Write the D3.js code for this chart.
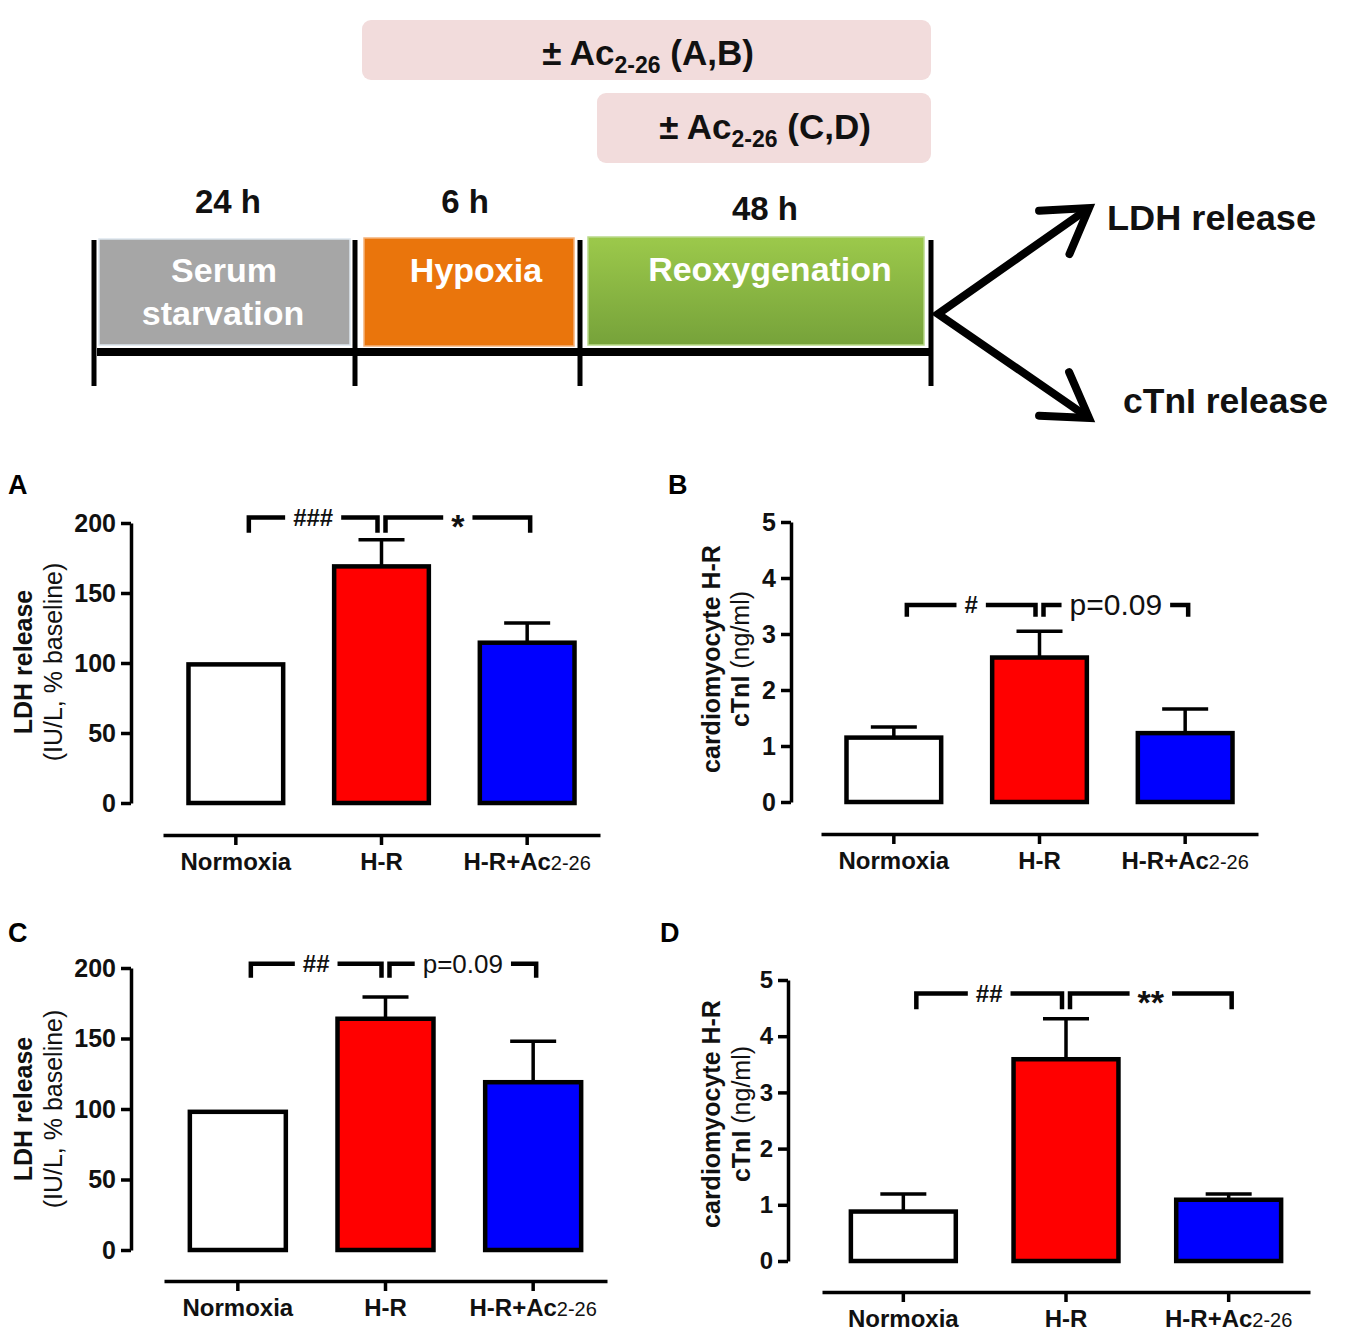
<!DOCTYPE html>
<html><head><meta charset="utf-8">
<script src="https://cdn.jsdelivr.net/npm/d3@7"></script>
<style>
body{margin:0;background:#fff}
svg{display:block}
text{font-family:"Liberation Sans",Arial,Helvetica,sans-serif}
</style>
</head><body>
<svg id="fig" width="1350" height="1334"></svg>
<script>
// ---------------- DATA ----------------
const groups = ["Normoxia", "H-R", "H-R+Ac2-26"];
const barColors = ["#ffffff", "#ff0000", "#0000ff"];
const ldhTicks = [0, 50, 100, 150, 200];
const ctniTicks = [0, 1, 2, 3, 4, 5];

const ldhA_mean = [99, 169, 114.5];
const ldhA_sem  = [0, 19, 14];
const ctniB_mean = [1.15, 2.58, 1.23];
const ctniB_sem  = [0.19, 0.47, 0.43];
const ldhC_mean = [98, 164, 119];
const ldhC_sem  = [0, 15.5, 29];
const ctniD_mean = [0.88, 3.59, 1.09];
const ctniD_sem  = [0.31, 0.72, 0.10];

const sigA = [{a:0,b:1,label:"###",bold:true,size:24},{a:1,b:2,label:"*",bold:true,size:34,star:true}];
const sigB = [{a:0,b:1,label:"#",bold:true,size:24},{a:1,b:2,label:"p=0.09",bold:false,size:30}];
const sigC = [{a:0,b:1,label:"##",bold:true,size:24},{a:1,b:2,label:"p=0.09",bold:false,size:26}];
const sigD = [{a:0,b:1,label:"##",bold:true,size:24},{a:1,b:2,label:"**",bold:true,size:34,star:true}];

const phases = ["Serum starvation", "Hypoxia", "Reoxygenation"];
const durations = ["24 h", "6 h", "48 h"];
const outputs = ["LDH release", "cTnI release"];

// ---------------- DRAW ----------------
const svg = d3.select("#fig");
const FONT = '"Liberation Sans",Arial,Helvetica,sans-serif';

// ---- Schematic ----
const sch = svg.append("g");
const treat = [
  {x:362,y:20,w:569,h:60,label:"(A,B)",tx:648,ty:65},
  {x:597,y:93,w:334,h:70,label:"(C,D)",tx:765,ty:139}
];
treat.forEach(t=>{
  sch.append("rect").attr("x",t.x).attr("y",t.y).attr("width",t.w).attr("height",t.h)
    .attr("rx",9).attr("fill","#f2dcdc");
  const tx = sch.append("text").attr("x",t.tx).attr("y",t.ty).attr("text-anchor","middle")
    .attr("font-weight","bold").attr("font-size",35).attr("fill","#111");
  tx.append("tspan").text("\u00b1 Ac");
  tx.append("tspan").attr("font-size",23).attr("dy",8).text("2-26");
  tx.append("tspan").attr("dy",-8).text(" " + t.label);
});

const durPos = [{x:228,y:213},{x:465,y:213},{x:765,y:220}];
durations.forEach((d,i)=>{
  sch.append("text").attr("x",durPos[i].x).attr("y",durPos[i].y).attr("text-anchor","middle")
    .attr("font-weight","bold").attr("font-size",33).attr("fill","#111").text(d);
});

const defs = svg.append("defs");
const gr = defs.append("linearGradient").attr("id","green").attr("x1",0).attr("y1",0).attr("x2",0).attr("y2",1);
gr.append("stop").attr("offset","0%").attr("stop-color","#9cc94b");
gr.append("stop").attr("offset","100%").attr("stop-color","#76a23a");
const boxes = [
  {x:99,y:239,w:251,h:106,fill:"#a6a6a6",stroke:"#dde6ee",lines:[{t:"Serum",x:224,y:282},{t:"starvation",x:223,y:325}]},
  {x:364,y:238,w:210,h:108,fill:"#ea750c",stroke:"#f5b27a",lines:[{t:"Hypoxia",x:476,y:282}]},
  {x:588,y:237,w:336,h:108,fill:"url(#green)",stroke:"#b9d98a",lines:[{t:"Reoxygenation",x:770,y:281}]}
];
boxes.forEach(b=>{
  sch.append("rect").attr("x",b.x).attr("y",b.y).attr("width",b.w).attr("height",b.h)
    .attr("fill",b.fill).attr("stroke",b.stroke).attr("stroke-width",1.5);
  b.lines.forEach(l=>{
    sch.append("text").attr("x",l.x).attr("y",l.y).attr("text-anchor","middle")
      .attr("font-weight","bold").attr("font-size",34).attr("fill","#fff").text(l.t);
  });
});
sch.append("line").attr("x1",97).attr("x2",933).attr("y1",352).attr("y2",352)
  .attr("stroke","#000").attr("stroke-width",8);
[94,355,580,931].forEach(x=>{
  sch.append("line").attr("x1",x).attr("x2",x).attr("y1",240).attr("y2",386)
    .attr("stroke","#000").attr("stroke-width",5);
});
const vtx = [938,314];
const tips = [[1089,208],[1089,418]];
sch.append("path").attr("d",`M${tips[0]}L${vtx}L${tips[1]}`).attr("fill","none")
  .attr("stroke","#000").attr("stroke-width",8).attr("stroke-linejoin","miter").attr("stroke-miterlimit",10);
tips.forEach(t=>{
  const dx=vtx[0]-t[0], dy=vtx[1]-t[1], L=Math.hypot(dx,dy);
  const ux=dx/L, uy=dy/L, len=50, ang=32*Math.PI/180;
  const p = s=>[t[0]+len*(ux*Math.cos(s*ang)-uy*Math.sin(s*ang)), t[1]+len*(ux*Math.sin(s*ang)+uy*Math.cos(s*ang))];
  sch.append("path").attr("d",`M${p(1)}L${t}L${p(-1)}`).attr("fill","none")
    .attr("stroke","#000").attr("stroke-width",8).attr("stroke-linejoin","miter").attr("stroke-linecap","round");
});
const outPos = [{x:1107,y:230,w:209},{x:1123,y:413,w:205}];
outputs.forEach((o,i)=>{
  sch.append("text").attr("x",outPos[i].x).attr("y",outPos[i].y).attr("font-weight","bold")
    .attr("font-size",35).attr("fill","#111").attr("textLength",outPos[i].w).attr("lengthAdjust","spacingAndGlyphs").text(o);
});

// ---- Bar panels ----
function panel(c){
  const g = svg.append("g");
  g.append("text").attr("x",c.letter[1]).attr("y",c.letter[2]).attr("font-weight","bold")
    .attr("font-size",27).attr("fill","#000").text(c.letter[0]);

  const y = d3.scaleLinear().domain([0, c.ymax]).range([c.y0, c.yTop]);
  const x = d3.scaleBand().domain(groups).range([c.xl0, c.xl1]);
  const cx = i => x(groups[i]) + x.bandwidth()/2;
  const bw = x.bandwidth()*c.barFrac;

  const ya = g.append("g").attr("transform",`translate(${c.axisX},0)`)
    .call(d3.axisLeft(y).tickValues(c.ticks).tickFormat(d3.format("d")).tickSize(10).tickSizeOuter(0).tickPadding(5));
  ya.attr("font-size",c.tickFont).attr("font-family",FONT);
  ya.select(".domain").attr("stroke","#000").attr("stroke-width",3.5);
  ya.selectAll(".tick line").attr("stroke","#000").attr("stroke-width",3.5);
  ya.selectAll(".tick text").attr("font-weight","bold").attr("fill","#111");

  const xa = g.append("g").attr("transform",`translate(0,${c.xLineY})`)
    .call(d3.axisBottom(x).tickSize(10).tickSizeOuter(0).tickPadding(8));
  xa.attr("font-size",24).attr("font-family",FONT);
  xa.select(".domain").attr("stroke","#000").attr("stroke-width",3.5);
  xa.selectAll(".tick line").attr("stroke","#000").attr("stroke-width",3.5);
  xa.selectAll(".tick text").attr("font-weight","bold").attr("fill","#111").each(function(d){
    if (d === "H-R+Ac2-26") {
      const t = d3.select(this).text(null);
      t.append("tspan").text("H-R+Ac");
      t.append("tspan").attr("font-weight","normal").attr("font-size",20).text("2-26");
    }
  });

  g.selectAll("rect.bar").data(c.mean).join("rect").attr("class","bar")
    .attr("x",(d,i)=>cx(i)-bw/2).attr("y",d=>y(d)).attr("width",bw).attr("height",d=>y(0)-y(d))
    .attr("fill",(d,i)=>barColors[i]).attr("stroke","#000").attr("stroke-width",4.5);
  c.mean.forEach((m,i)=>{
    const s = c.sem[i]; if (!s) return;
    g.append("line").attr("x1",cx(i)).attr("x2",cx(i)).attr("y1",y(m)).attr("y2",y(m+s))
      .attr("stroke","#000").attr("stroke-width",3.5);
    g.append("line").attr("x1",cx(i)-c.capW/2).attr("x2",cx(i)+c.capW/2).attr("y1",y(m+s)).attr("y2",y(m+s))
      .attr("stroke","#000").attr("stroke-width",3.5);
  });

  c.sig.forEach((s,k)=>{
    const x1 = k===0 ? cx(s.a)+13 : cx(s.a)+4;
    const x2 = k===0 ? cx(s.b)-4 : cx(s.b)+3;
    const yl = y(c.sigY), yd = y(c.sigDrop);
    g.append("path").attr("d",`M${x1},${yd}V${yl}H${x2}V${yd}`).attr("fill","none")
      .attr("stroke","#000").attr("stroke-width",4.5);
    const bgr = g.append("rect").attr("fill","#fff");
    const t = g.append("text").attr("x",(x1+x2)/2).attr("y",yl).attr("text-anchor","middle")
      .attr("dy", s.star ? "0.6em" : "0.35em")
      .attr("font-weight", s.bold ? "bold" : "normal").attr("font-size",s.size).attr("fill","#111").text(s.label);
    const w = t.node().getComputedTextLength();
    bgr.attr("x",(x1+x2)/2-w/2-8).attr("y",yl-5).attr("width",w+16).attr("height",10);
  });

  c.titles.forEach(tl=>{
    const t = g.append("text").attr("transform",`translate(${tl.x},${c.titleY}) rotate(-90)`)
      .attr("text-anchor","middle").attr("dy","0.35em").attr("font-size",25).attr("fill","#111");
    tl.parts.forEach(p=>t.append("tspan").attr("font-weight",p.b?"bold":"normal").text(p.t));
  });
}

panel({letter:["A",8,494], axisX:131, y0:803, yTop:523, ymax:200, ticks:ldhTicks, tickFont:25,
  xl0:163, xl1:600, xLineY:835, barFrac:0.65, capW:46,
  mean:ldhA_mean, sem:ldhA_sem, sig:sigA, sigY:204, sigDrop:193, titleY:662,
  titles:[{x:23,parts:[{t:"LDH release",b:true}]},{x:53,parts:[{t:"(IU/L, % baseline)",b:false}]}]});

panel({letter:["B",668,494], axisX:791, y0:802, yTop:522, ymax:5, ticks:ctniTicks, tickFont:25,
  xl0:821, xl1:1258, xLineY:834, barFrac:0.65, capW:46,
  mean:ctniB_mean, sem:ctniB_sem, sig:sigB, sigY:3.52, sigDrop:3.31, titleY:659,
  titles:[{x:711,parts:[{t:"cardiomyocyte H-R",b:true}]},{x:740,parts:[{t:"cTnI",b:true},{t:" (ng/ml)",b:false}]}]});

panel({letter:["C",8,942], axisX:131, y0:1250, yTop:968, ymax:200, ticks:ldhTicks, tickFont:25,
  xl0:164, xl1:607, xLineY:1281, barFrac:0.65, capW:46,
  mean:ldhC_mean, sem:ldhC_sem, sig:sigC, sigY:203, sigDrop:193, titleY:1109,
  titles:[{x:23,parts:[{t:"LDH release",b:true}]},{x:53,parts:[{t:"(IU/L, % baseline)",b:false}]}]});

panel({letter:["D",660,942], axisX:788, y0:1261, yTop:980, ymax:5, ticks:ctniTicks, tickFont:24,
  xl0:822, xl1:1310, xLineY:1292, barFrac:0.645, capW:46,
  mean:ctniD_mean, sem:ctniD_sem, sig:sigD, sigY:4.76, sigDrop:4.48, titleY:1114,
  titles:[{x:711,parts:[{t:"cardiomyocyte H-R",b:true}]},{x:741,parts:[{t:"cTnI",b:true},{t:" (ng/ml)",b:false}]}]});
</script>
</body></html>
